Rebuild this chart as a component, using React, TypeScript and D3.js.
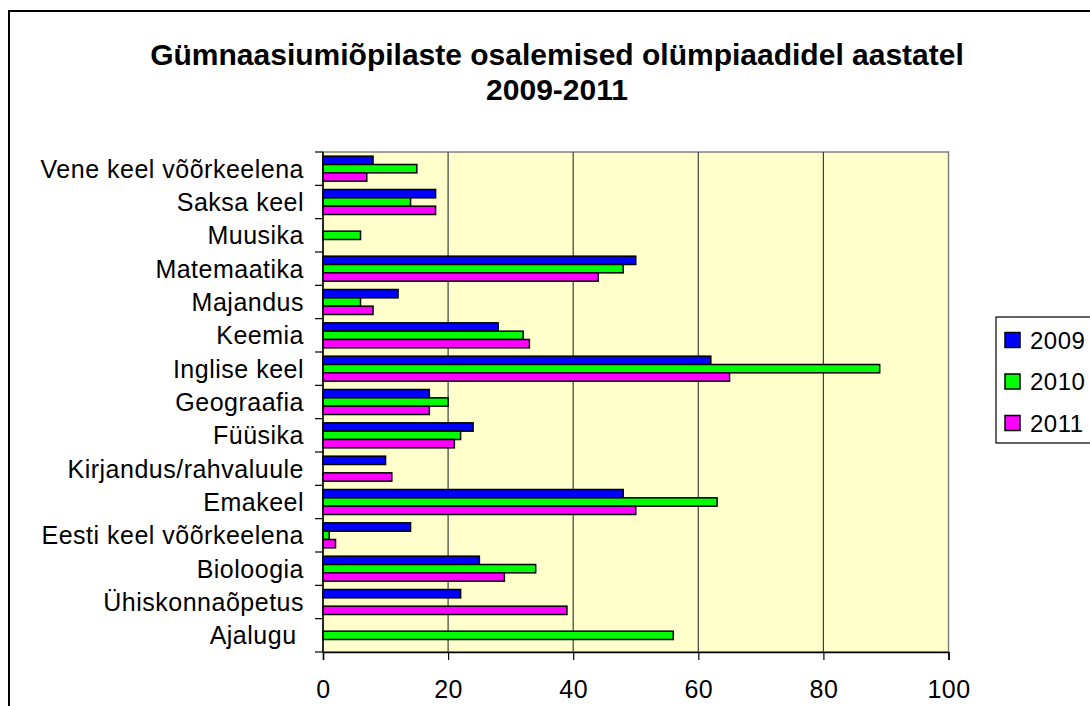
import * as d3 from "d3";
import { useEffect, useRef } from "react";

// categories, top to bottom as drawn
const subjects = [
  "Vene keel võõrkeelena",
  "Saksa keel",
  "Muusika",
  "Matemaatika",
  "Majandus",
  "Keemia",
  "Inglise keel",
  "Geograafia",
  "Füüsika",
  "Kirjandus/rahvaluule",
  "Emakeel",
  "Eesti keel võõrkeelena",
  "Bioloogia",
  "Ühiskonnaõpetus",
  "Ajalugu ",
];

const years = ["2009", "2010", "2011"];
const colors = ["#0000FF", "#00FF00", "#FF00FF"];

const values2009 = [8, 18, 0, 50, 12, 28, 62, 17, 24, 10, 48, 14, 25, 22, 0];
const values2010 = [15, 14, 6, 48, 6, 32, 89, 20, 22, 0, 63, 1, 34, 0, 56];
const values2011 = [7, 18, 0, 44, 8, 33, 65, 17, 21, 11, 50, 2, 29, 39, 0];

const xTicks = [0, 20, 40, 60, 80, 100];

const titleLines = ["Gümnaasiumiõpilaste osalemised olümpiaadidel aastatel", "2009-2011"];

export default function App() {
  const svgRef = useRef<SVGSVGElement>(null);
  const width = 1090;
  const height = 706;

  useEffect(() => {
    if (!svgRef.current) return;
    const svg = d3.select(svgRef.current);
    svg.selectAll("*").remove();

    const font = "'Liberation Sans', Arial, sans-serif";
    const plot = { left: 323, top: 152, right: 948.5, bottom: 652 };

    // outer chart border
    svg
      .append("rect")
      .attr("x", 9)
      .attr("y", 11)
      .attr("width", 1200)
      .attr("height", 800)
      .attr("fill", "#fff")
      .attr("stroke", "#000")
      .attr("stroke-width", 2);

    // title
    svg
      .append("text")
      .attr("text-anchor", "middle")
      .style("font-family", font)
      .style("font-size", "30px")
      .style("font-weight", "bold")
      .selectAll("tspan")
      .data(titleLines)
      .enter()
      .append("tspan")
      .attr("x", 557)
      .attr("y", (d, i) => 65 + i * 35)
      .text((d) => d);

    const xScale = d3.scaleLinear().domain([0, 100]).range([plot.left, plot.right]);
    const yScale = d3.scaleBand().domain(subjects).range([plot.top, plot.bottom]).padding(0);
    // gap between groups equals one bar height
    const inner = d3
      .scaleBand()
      .domain(years)
      .range([0, yScale.bandwidth()])
      .paddingOuter(0.5)
      .paddingInner(0);

    // plot background
    svg
      .append("rect")
      .attr("x", plot.left)
      .attr("y", plot.top)
      .attr("width", plot.right - plot.left)
      .attr("height", plot.bottom - plot.top)
      .attr("fill", "#FFFFCC")
      .attr("stroke", "#808080")
      .attr("stroke-width", 1.5);

    // gridlines
    svg
      .append("g")
      .selectAll("line")
      .data(xTicks.slice(1, -1))
      .enter()
      .append("line")
      .attr("x1", (d) => xScale(d))
      .attr("x2", (d) => xScale(d))
      .attr("y1", plot.top)
      .attr("y2", plot.bottom)
      .attr("stroke", "#404040")
      .attr("stroke-width", 1.2);

    // bars
    const series = [values2009, values2010, values2011];
    series.forEach((vals, si) => {
      svg
        .append("g")
        .selectAll("rect")
        .data(subjects.map((s, i) => ({ s, v: vals[i] })).filter((d) => d.v > 0))
        .enter()
        .append("rect")
        .attr("x", xScale(0))
        .attr("y", (d) => yScale(d.s)! + inner(years[si])!)
        .attr("width", (d) => xScale(d.v) - xScale(0))
        .attr("height", inner.bandwidth())
        .attr("fill", colors[si])
        .attr("stroke", "#000")
        .attr("stroke-width", 1.5);
    });

    // x axis
    const xAxis = d3
      .axisBottom(xScale)
      .tickValues(xTicks)
      .tickSize(8)
      .tickPadding(20)
      .tickFormat((d) => String(d));
    const gx = svg.append("g").attr("transform", `translate(0,${plot.bottom})`).call(xAxis);
    gx.select(".domain").attr("stroke", "#000").attr("stroke-width", 1.5);
    gx.selectAll(".tick line").attr("stroke", "#000").attr("stroke-width", 1.2);
    gx.selectAll(".tick text")
      .style("font-family", font)
      .style("font-size", "25px")
      .style("letter-spacing", "0.5px")
      .style("fill", "#000");

    // y axis
    const tickYs = d3.range(subjects.length + 1).map((i) => plot.top + i * yScale.step());
    svg
      .append("line")
      .attr("x1", plot.left)
      .attr("x2", plot.left)
      .attr("y1", plot.top)
      .attr("y2", plot.bottom)
      .attr("stroke", "#000")
      .attr("stroke-width", 1.5);
    svg
      .append("g")
      .selectAll("line")
      .data(tickYs)
      .enter()
      .append("line")
      .attr("x1", plot.left - 8)
      .attr("x2", plot.left)
      .attr("y1", (d) => d)
      .attr("y2", (d) => d)
      .attr("stroke", "#000")
      .attr("stroke-width", 1.2);

    svg
      .append("g")
      .selectAll("text")
      .data(subjects)
      .enter()
      .append("text")
      .attr("x", 304)
      .attr("y", (d) => yScale(d)! + yScale.bandwidth() / 2)
      .attr("dy", "0.36em")
      .attr("text-anchor", "end")
      .attr("xml:space", "preserve")
      .style("white-space", "pre")
      .style("font-family", font)
      .style("font-size", "25px")
      .style("letter-spacing", "0.5px")
      .text((d) => d);

    // legend
    const legend = svg.append("g");
    legend
      .append("rect")
      .attr("x", 996)
      .attr("y", 317)
      .attr("width", 200)
      .attr("height", 126)
      .attr("fill", "#fff")
      .attr("stroke", "#000")
      .attr("stroke-width", 1.2);
    const items = legend
      .selectAll(".item")
      .data(years)
      .enter()
      .append("g")
      .attr("transform", (d, i) => `translate(1005,${340 + i * 41.5})`);
    items
      .append("rect")
      .attr("x", 0)
      .attr("y", -7.5)
      .attr("width", 15)
      .attr("height", 15)
      .attr("fill", (d, i) => colors[i])
      .attr("stroke", "#000")
      .attr("stroke-width", 1.5);
    items
      .append("text")
      .attr("x", 25)
      .attr("dy", "0.36em")
      .style("font-family", font)
      .style("font-size", "24px")
      .style("letter-spacing", "0.5px")
      .text((d) => d);
  }, []);

  return (
    <div style={{ position: "absolute", left: 0, top: 0 }}>
      <svg ref={svgRef} width={width} height={height} style={{ display: "block" }} />
    </div>
  );
}
